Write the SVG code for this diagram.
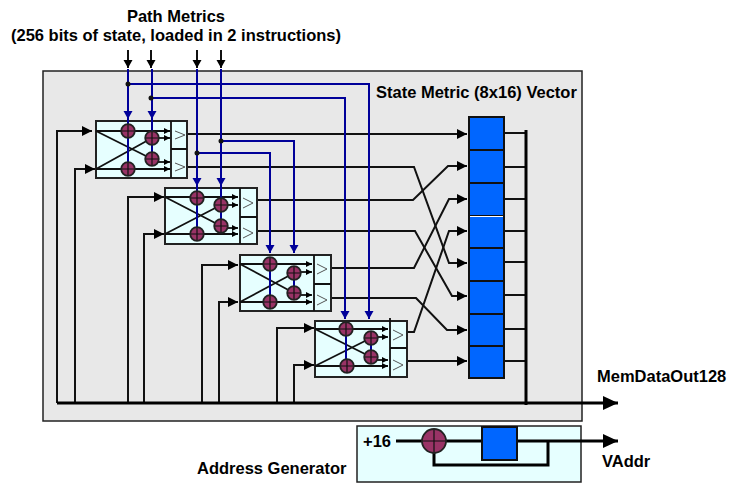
<svg xmlns="http://www.w3.org/2000/svg" width="743" height="483" viewBox="0 0 743 483">
<style>
text{font-family:"Liberation Sans",Arial,sans-serif;font-weight:bold;fill:#000}
.t{font-size:16.5px}
.w{fill:none;stroke:#111;stroke-width:2}
.b{fill:none;stroke:#000099;stroke-width:2}
.mod{fill:#e6ffff;stroke:#222;stroke-width:2}
.x{fill:none;stroke:#111;stroke-width:1.8}
.ck{fill:none;stroke:#555;stroke-width:1}
.reg{fill:#0066ff;stroke:#111;stroke-width:2}
.add{fill:#993366;stroke:#222;stroke-width:1.8}
.cr{stroke:#111;stroke-width:1.2}
.dot{fill:#111}
.bus{fill:none;stroke:#000;stroke-width:3}
</style>
<defs>
<marker id="big" markerUnits="userSpaceOnUse" markerWidth="16" markerHeight="16" refX="15" refY="8" orient="auto"><path d="M0 1L15 8L0 15Z" fill="#000"/></marker>
<marker id="med" markerUnits="userSpaceOnUse" markerWidth="12" markerHeight="12" refX="10" refY="5" orient="auto"><path d="M0 0L10 5L0 10Z" fill="#000"/></marker>
<marker id="sm" markerUnits="userSpaceOnUse" markerWidth="7" markerHeight="7" refX="6" refY="3" orient="auto"><path d="M0 0L6 3L0 6Z" fill="#000"/></marker>
<marker id="blu" markerUnits="userSpaceOnUse" markerWidth="10" markerHeight="10" refX="8" refY="4.5" orient="auto"><path d="M0 0L8 4.5L0 9Z" fill="#000099"/></marker>
<marker id="blk" markerUnits="userSpaceOnUse" markerWidth="10" markerHeight="10" refX="8" refY="4.5" orient="auto"><path d="M0 0L8 4.5L0 9Z" fill="#000"/></marker>
<g id="adder"><circle r="6.8" class="add"/><path d="M-6 0H6M0-6V6" class="cr"/></g>
<g id="adderL"><circle r="12" class="add"/><path d="M-11 0H11M0-11V11" class="cr"/></g>
</defs>

<rect id="state-vector" x="43" y="71" width="539" height="350" fill="#e8e8e8" stroke="#222" stroke-width="1.5"/>
<rect id="address-panel" x="357" y="426" width="224" height="56" fill="#e6ffff" stroke="#222" stroke-width="1.5"/>

<g id="connectors">
<path class="w" d="M128 50V68" marker-end="url(#blk)"/>
<path class="w" d="M151 50V68" marker-end="url(#blk)"/>
<path class="w" d="M197 50V68" marker-end="url(#blk)"/>
<path class="w" d="M221 50V68" marker-end="url(#blk)"/>
<path class="w" d="M57 403V131H92" marker-end="url(#med)"/>
<path class="w" d="M75 403V169H95" marker-end="url(#med)"/>
<path class="w" d="M128 403V197H164" marker-end="url(#med)"/>
<path class="w" d="M144 403V234H164" marker-end="url(#med)"/>
<path class="w" d="M202 403V265H238" marker-end="url(#med)"/>
<path class="w" d="M219 403V302H238" marker-end="url(#med)"/>
<path class="w" d="M277 403V328H314" marker-end="url(#med)"/>
<path class="w" d="M294 403V365H314" marker-end="url(#med)"/>
<path class="w" d="M187 134H467" marker-end="url(#med)"/>
<path class="w" d="M187 167H414L449 263H467" marker-end="url(#med)"/>
<path class="w" d="M257 200H413L448 166H467" marker-end="url(#med)"/>
<path class="w" d="M257 231H415L452 296H467" marker-end="url(#med)"/>
<path class="w" d="M331 268H414L449 199H467" marker-end="url(#med)"/>
<path class="w" d="M331 298H416L447 330H467" marker-end="url(#med)"/>
<path class="w" d="M407 332H414L449 231H467" marker-end="url(#med)"/>
<path class="w" d="M407 361H467" marker-end="url(#med)"/>
<path class="w" d="M504 133H526M504 167H526M504 199H526M504 231H526M504 262H526M504 295H526M504 329H526M504 361H526"/>
<path class="bus" d="M526 130V405"/>
<path class="bus" d="M57 403H618" marker-end="url(#big)"/>
<path class="bus" d="M396 441H482"/>
<path class="bus" d="M517 441H618" marker-end="url(#big)"/>
<path class="bus" d="M434 453V465H548V441"/>
</g>

<g id="module-1">
<rect class="mod" x="96" y="121" width="91" height="57"/>
<path class="x" d="M171 121V178M171 149H187"/>
<path class="ck" d="M175 131L185 135L175 139M175 163L185 167L175 171"/>
<path class="x" d="M96 131H170" marker-end="url(#sm)"/>
<path class="x" d="M152 138H170" marker-end="url(#sm)"/>
<path class="x" d="M152 162H170" marker-end="url(#sm)"/>
<path class="x" d="M96 169H170" marker-end="url(#sm)"/>
<path class="x" d="M96 131L152 159M96 169L152 138"/>
</g>
<g id="module-2">
<rect class="mod" x="165" y="188" width="92" height="56"/>
<path class="x" d="M240 188V244M240 217H257"/>
<path class="ck" d="M243 198L253 203L243 208M243 228L253 233L243 238"/>
<path class="x" d="M165 197H238" marker-end="url(#sm)"/>
<path class="x" d="M221 205H238" marker-end="url(#sm)"/>
<path class="x" d="M221 228H238" marker-end="url(#sm)"/>
<path class="x" d="M165 234H238" marker-end="url(#sm)"/>
<path class="x" d="M165 197L221 226M165 234L221 205"/>
</g>
<g id="module-3">
<rect class="mod" x="240" y="255" width="91" height="56"/>
<path class="x" d="M314 255V311M314 284H331"/>
<path class="ck" d="M317 264L327 269L317 274M317 295L327 300L317 305"/>
<path class="x" d="M240 264H312" marker-end="url(#sm)"/>
<path class="x" d="M294 272H312" marker-end="url(#sm)"/>
<path class="x" d="M294 295H312" marker-end="url(#sm)"/>
<path class="x" d="M240 302H312" marker-end="url(#sm)"/>
<path class="x" d="M240 264L294 293M240 302L294 273"/>
</g>
<g id="module-4">
<rect class="mod" x="315" y="321" width="92" height="56"/>
<path class="x" d="M390 318V377M390 348H407"/>
<path class="ck" d="M393 330L403 335L393 340M393 360L403 365L393 370"/>
<path class="x" d="M315 329H388" marker-end="url(#sm)"/>
<path class="x" d="M371 337H388" marker-end="url(#sm)"/>
<path class="x" d="M371 360H388" marker-end="url(#sm)"/>
<path class="x" d="M315 366H388" marker-end="url(#sm)"/>
<path class="x" d="M315 329L371 357M315 366L371 338"/>
</g>

<g id="blue-wires">
<path class="b" d="M128 69V169"/>
<path class="b" d="M152 69V159"/>
<path class="b" d="M197 69V234"/>
<path class="b" d="M221 69V226"/>
<path class="b" d="M128 84H369V319" marker-end="url(#blu)"/>
<path class="b" d="M151 98H345V319" marker-end="url(#blu)"/>
<path class="b" d="M221 141H294V253" marker-end="url(#blu)"/>
<path class="b" d="M197 153H270V253" marker-end="url(#blu)"/>
<path class="b" d="M128 100V119" marker-end="url(#blu)"/>
<path class="b" d="M152 100V119" marker-end="url(#blu)"/>
<path class="b" d="M197 170V186" marker-end="url(#blu)"/>
<path class="b" d="M221 170V186" marker-end="url(#blu)"/>
<path class="b" d="M270 269V302"/>
<path class="b" d="M294 273V293"/>
<path class="b" d="M346 329V366"/>
<path class="b" d="M371 338V357"/>
<circle class="dot" cx="128" cy="84" r="2.5"/>
<circle class="dot" cx="151" cy="98" r="2.5"/>
<circle class="dot" cx="221" cy="141" r="2.5"/>
<circle class="dot" cx="197" cy="153" r="2.5"/>
</g>

<g id="adders">
<use href="#adder" x="128" y="131"/><use href="#adder" x="152" y="138"/><use href="#adder" x="152" y="159"/><use href="#adder" x="128" y="169"/>
<use href="#adder" x="197" y="198"/><use href="#adder" x="221" y="205"/><use href="#adder" x="221" y="226"/><use href="#adder" x="197" y="234"/>
<use href="#adder" x="270" y="264"/><use href="#adder" x="294" y="273"/><use href="#adder" x="294" y="293"/><use href="#adder" x="270" y="302"/>
<use href="#adder" x="346" y="329"/><use href="#adder" x="371" y="338"/><use href="#adder" x="371" y="357"/><use href="#adder" x="347" y="366"/>
</g>

<g id="register-file">
<rect class="reg" x="469" y="117" width="35" height="33"/>
<rect class="reg" x="469" y="150" width="35" height="33"/>
<rect class="reg" x="469" y="183" width="35" height="33"/>
<rect class="reg" x="469" y="216" width="35" height="32"/>
<rect class="reg" x="469" y="248" width="35" height="33"/>
<rect class="reg" x="469" y="281" width="35" height="33"/>
<rect class="reg" x="469" y="314" width="35" height="32"/>
<rect class="reg" x="469" y="346" width="35" height="32"/>
<path d="M470 216.5H503" stroke="#fff" stroke-width="1"/>
</g>

<g id="address-generator">
<use href="#adderL" x="434" y="441"/>
<rect class="reg" x="482" y="427" width="35" height="33"/>
<text class="t" x="363" y="447">+16</text>
</g>

<g id="labels">
<text class="t" x="176" y="22" text-anchor="middle">Path Metrics</text>
<text class="t" x="176" y="41" text-anchor="middle">(256 bits of state, loaded in 2 instructions)</text>
<text class="t" x="376" y="98">State Metric (8x16) Vector</text>
<text class="t" x="597" y="382">MemDataOut128</text>
<text class="t" x="602" y="467">VAddr</text>
<text class="t" x="197" y="474">Address Generator</text>
</g>
</svg>
